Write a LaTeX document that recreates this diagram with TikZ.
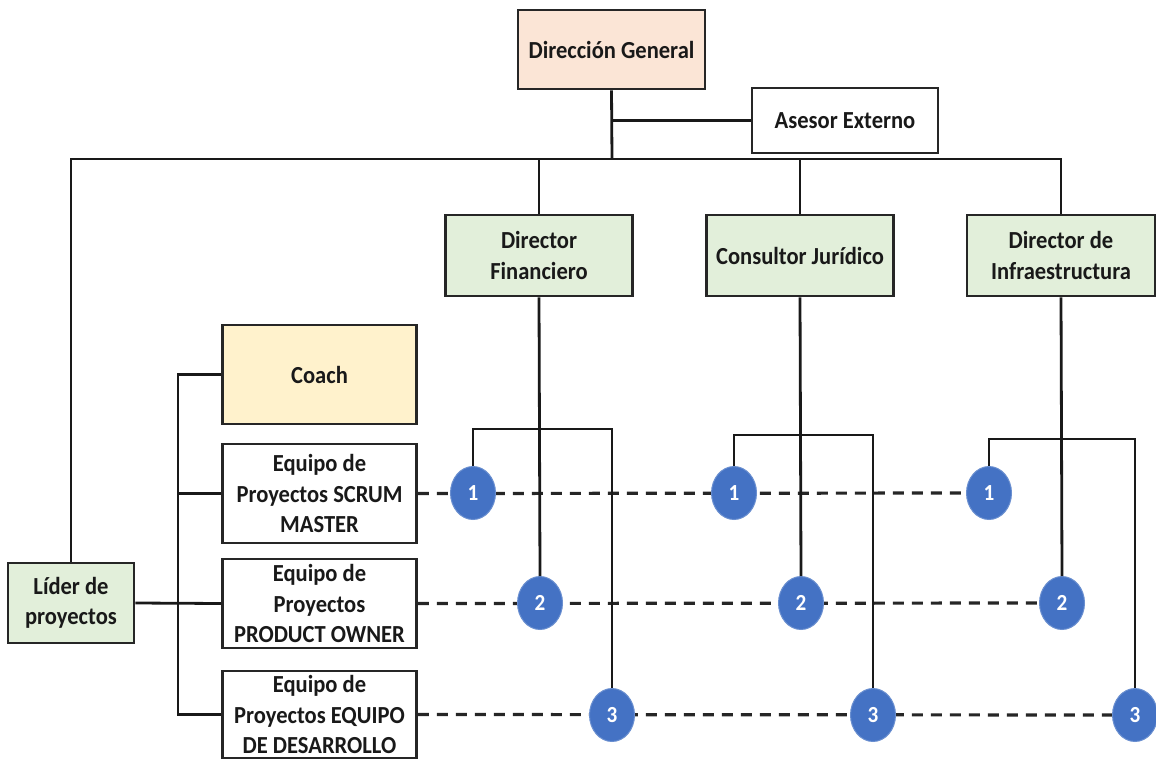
\documentclass[tikz,border=0pt]{standalone}
\usepackage{fontspec}
\setmainfont{Carlito}[FakeStretch=0.92]
\usetikzlibrary{shapes.geometric,backgrounds}
\definecolor{peach}{HTML}{FBE5D6}
\definecolor{palegreen}{HTML}{E2EFDA}
\definecolor{paleyellow}{HTML}{FFF2CC}
\definecolor{roleblue}{HTML}{4472C4}
\definecolor{rolerim}{HTML}{6A8FD0}
\newcommand\boxfont{\fontsize{24.5}{30.5}\selectfont\bfseries}
\newcommand\numfont{\fontsize{23}{24}\selectfont\bfseries}
\tikzset{
  orgbox/.style={draw=black!85, line width=2.8pt, inner sep=0pt, align=center,
    font=\boxfont, text=black!90},
  rolecircle/.style={ellipse, fill=roleblue, draw=rolerim, line width=1pt,
    minimum width=45pt, minimum height=53pt, inner sep=0pt, text=white, font=\numfont},
  link/.style={line width=2.8pt, black!90},
  dashrow/.style={line width=3.2pt, black!85, dash pattern=on 11pt off 8pt}
}
\begin{document}
\begin{tikzpicture}[x=1pt,y=-1pt]
\useasboundingbox (0,0) rectangle (1156,759);

% top of the chart
\node[orgbox, fill=peach, minimum width=187pt, minimum height=79pt] (dg) at (611.5,49.5) {Dirección General};
\node[orgbox, fill=white, minimum width=186pt, minimum height=65pt] (ase) at (845,120.5) {Asesor Externo};

% directors
\node[orgbox, fill=palegreen, minimum width=187pt, minimum height=81pt] (fin) at (539,255.5) {Director\\Financiero};
\node[orgbox, fill=palegreen, minimum width=187pt, minimum height=81pt] (con) at (800,255.5) {Consultor Jurídico};
\node[orgbox, fill=palegreen, minimum width=188pt, minimum height=81pt] (inf) at (1061,255.5) {Director de\\Infraestructura};

% project side
\node[orgbox, fill=palegreen, minimum width=126pt, minimum height=80pt] (lider) at (71,603) {Líder de\\proyectos};
\node[orgbox, fill=paleyellow, minimum width=194pt, minimum height=99pt] (coach) at (319.5,374.5) {Coach};
\node[orgbox, fill=white, minimum width=194pt, minimum height=99pt] (scrum) at (319.5,493.5) {Equipo de\\Proyectos SCRUM\\MASTER};
\node[orgbox, fill=white, minimum width=194pt, minimum height=89pt] (po) at (319.5,603.5) {Equipo de\\Proyectos\\PRODUCT OWNER};
\node[orgbox, fill=white, minimum width=194pt, minimum height=87pt] (des) at (319.5,714.5) {Equipo de\\Proyectos EQUIPO\\DE DESARROLLO};

% numbered roles under each director
\node[rolecircle] (f1) at (473,493) {1};
\node[rolecircle] (f2) at (540,603) {2};
\node[rolecircle] (f3) at (612,715) {3};
\node[rolecircle] (c1) at (734,493) {1};
\node[rolecircle] (c2) at (801,603) {2};
\node[rolecircle] (c3) at (873,715) {3};
\node[rolecircle] (i1) at (989,493) {1};
\node[rolecircle] (i2) at (1062,603) {2};
\node[rolecircle] (i3) at (1135,715) {3};

% junction points
\coordinate (bus) at (612,159);
\coordinate (brx) at (178,374.5);
\coordinate (fb) at (540,429);
\coordinate (cb) at (801,435);
\coordinate (ib) at (1062,439);

% main hierarchy
\draw[link] (dg.south) -- (bus);
\draw[link] (dg.south |- ase.west) -- (ase.west);
\draw[link] (bus) -| (lider.north);
\draw[link] (bus) -| (fin.north);
\draw[link] (bus) -| (con.north);
\draw[link] (bus) -| (inf.north);

% leader bracket
\draw[link] (coach.west) -- (coach.west -| brx) -- (des.west -| brx) -- (des.west);
\draw[link] (scrum.west -| brx) -- (scrum.west);
\draw[link] (lider.east) -- (po.west);

% director branches
\draw[link] (fin.south) -- (f2.north);
\draw[link] (f1.north) |- (fb) -| (f3.north);
\draw[link] (con.south) -- (c2.north);
\draw[link] (c1.north) |- (cb) -| (c3.north);
\draw[link] (inf.south) -- (i2.north);
\draw[link] (i1.north) |- (ib) -| (i3.north);

% dashed role rows behind the circles
\begin{pgfonlayer}{background}
\draw[dashrow] (scrum.east) -- (i1.center);
\draw[dashrow] (po.east) -- (i2.center);
\draw[dashrow] (des.east) -- (i3.center);
\end{pgfonlayer}
\end{tikzpicture}
\end{document}
